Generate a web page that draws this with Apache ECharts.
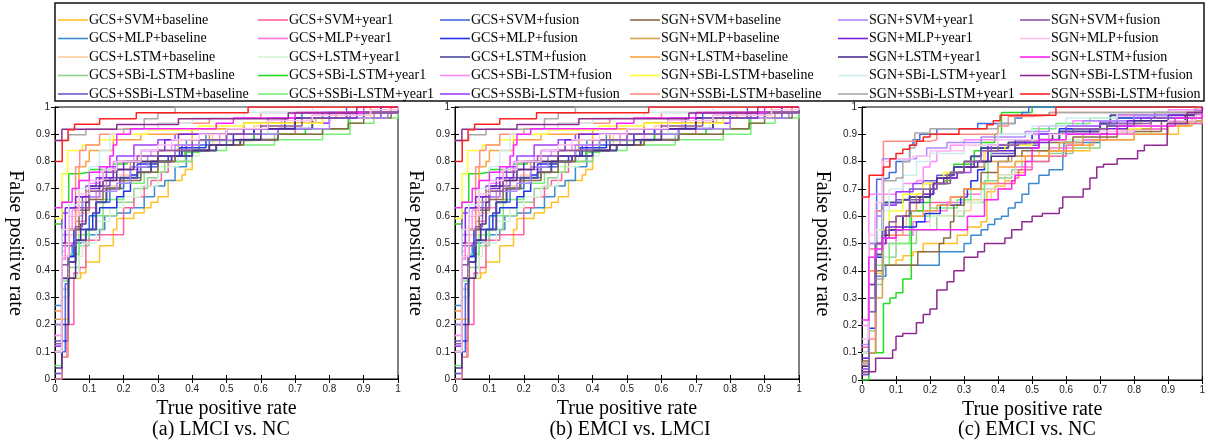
<!DOCTYPE html>
<html><head><meta charset="utf-8">
<script src="https://cdn.jsdelivr.net/npm/echarts@6/dist/echarts.min.js"></script>
<style>html,body{margin:0;padding:0;background:#fff}#c{width:1208px;height:441px}</style>
</head><body><div id="c"></div>
<script>
// ---------- series names & colours (legend order: 6 columns x 5 rows) ----------
const seriesNames = [
 'GCS+SVM+baseline','GCS+MLP+baseline','GCS+LSTM+baseline','GCS+SBi-LSTM+basline','GCS+SSBi-LSTM+baseline',
 'GCS+SVM+year1','GCS+MLP+year1','GCS+LSTM+year1','GCS+SBi-LSTM+year1','GCS+SSBi-LSTM+year1',
 'GCS+SVM+fusion','GCS+MLP+fusion','GCS+LSTM+fusion','GCS+SBi-LSTM+fusion','GCS+SSBi-LSTM+fusion',
 'SGN+SVM+baseline','SGN+MLP+baseline','SGN+LSTM+baseline','SGN+SBi-LSTM+baseline','SGN+SSBi-LSTM+baseline',
 'SGN+SVM+year1','SGN+MLP+year1','SGN+LSTM+year1','SGN+SBi-LSTM+year1','SGN+SSBi-LSTM+year1',
 'SGN+SVM+fusion','SGN+MLP+fusion','SGN+LSTM+fusion','SGN+SBi-LSTM+fusion','SGN+SSBi-LSTM+fusion'
];
const seriesColors = [
 '#FFC125','#3A8BD0','#FFCC99','#8FD18F','#6A5ACD',
 '#FF5FA0','#FF77DD','#D2F5D2','#22DD22','#77EE77',
 '#4169E1','#2233EE','#4A4A9A','#FF88FF','#A040FF',
 '#8B6B45','#D4A050','#FFA040','#FFFF33','#FF8C80',
 '#B088FF','#7A22DD','#4B2E8A','#CDEEEE','#A8A8A8',
 '#8E5BA8','#FFC0EE','#FF22FF','#902A90','#FF2020'
];
const panelTitles = ['(a) LMCI vs. NC','(b) EMCI vs. LMCI','(c) EMCI vs. NC'];
const xAxisName = 'True positive rate';
const yAxisName = 'False positive rate';

// ---------- ROC staircase corners [x, y] : panels (a) and (b) ----------
const ab01 = [[0,0],[0.02,0.22],[0.037,0.26],[0.037,0.37],[0.075,0.39],[0.09,0.43],[0.13,0.43],[0.13,0.49],[0.17,0.55],[0.18,0.59],[0.23,0.61],[0.26,0.63],[0.28,0.65],[0.3,0.67],[0.33,0.73],[0.37,0.75],[0.38,0.77],[0.4,0.92],[0.55,0.94],[0.76,0.96],[0.9,0.98],[1,1]];
const ab02 = [[0,0.27],[0.02,0.3],[0.04,0.45],[0.05,0.5],[0.1,0.53],[0.13,0.55],[0.145,0.6],[0.18,0.61],[0.22,0.63],[0.26,0.67],[0.29,0.71],[0.32,0.73],[0.35,0.78],[0.383,0.88],[0.44,0.9],[0.55,0.94],[0.62,0.96],[0.78,0.98],[0.95,1],[1,1]];
const ab03 = [[0,0.16],[0.02,0.42],[0.04,0.53],[0.07,0.61],[0.1,0.67],[0.14,0.71],[0.19,0.75],[0.24,0.78],[0.3,0.82],[0.38,0.86],[0.46,0.9],[0.58,0.93],[0.7,0.96],[0.82,0.98],[1,1]];
const ab04 = [[0,0.1],[0.02,0.33],[0.04,0.41],[0.07,0.49],[0.1,0.55],[0.14,0.6],[0.18,0.65],[0.23,0.7],[0.27,0.74],[0.3,0.8],[0.38,0.84],[0.45,0.86],[0.55,0.88],[0.64,0.9],[0.78,0.92],[0.86,0.96],[0.95,0.98],[1,1]];
const ab05 = [[0,0.14],[0.02,0.49],[0.04,0.63],[0.08,0.67],[0.13,0.71],[0.16,0.74],[0.22,0.78],[0.28,0.8],[0.35,0.84],[0.45,0.86],[0.5,0.88],[0.58,0.92],[0.7,0.96],[0.86,0.98],[1,1]];
const ab06 = [[0,0.02],[0.02,0.08],[0.035,0.2],[0.055,0.39],[0.072,0.41],[0.09,0.51],[0.13,0.53],[0.2,0.63],[0.23,0.67],[0.26,0.71],[0.28,0.73],[0.31,0.76],[0.33,0.8],[0.4,0.84],[0.47,0.86],[0.52,0.88],[0.6,0.9],[0.7,0.94],[0.8,0.96],[0.93,0.98],[1,1]];
const ab07 = [[0,0.12],[0.02,0.44],[0.03,0.5],[0.06,0.58],[0.09,0.63],[0.12,0.69],[0.15,0.73],[0.2,0.77],[0.25,0.8],[0.3,0.82],[0.38,0.86],[0.48,0.9],[0.6,0.94],[0.75,0.97],[0.9,0.98],[1,1]];
const ab08 = [[0,0.1],[0.02,0.3],[0.04,0.38],[0.07,0.45],[0.08,0.5],[0.12,0.58],[0.16,0.63],[0.2,0.67],[0.25,0.71],[0.3,0.78],[0.36,0.82],[0.42,0.86],[0.52,0.9],[0.62,0.92],[0.74,0.96],[0.88,0.98],[1,1]];
const ab09 = [[0,0.57],[0.02,0.65],[0.04,0.755],[0.07,0.76],[0.1,0.77],[0.17,0.79],[0.21,0.8],[0.3,0.82],[0.38,0.835],[0.42,0.877],[0.58,0.9],[0.73,0.92],[0.855,0.96],[0.97,0.98],[1,1]];
const ab10 = [[0,0.05],[0.02,0.36],[0.04,0.46],[0.07,0.53],[0.1,0.6],[0.14,0.66],[0.2,0.72],[0.26,0.76],[0.32,0.8],[0.4,0.84],[0.5,0.86],[0.64,0.88],[0.78,0.9],[0.86,0.94],[0.93,0.96],[1,1]];
const ab11 = [[0,0.02],[0.02,0.1],[0.03,0.35],[0.04,0.45],[0.06,0.55],[0.1,0.6],[0.12,0.65],[0.16,0.7],[0.2,0.74],[0.25,0.78],[0.3,0.82],[0.37,0.86],[0.45,0.88],[0.5,0.92],[0.62,0.94],[0.72,0.98],[0.85,1],[1,1]];
const ab12 = [[0,0],[0.02,0.14],[0.038,0.45],[0.055,0.55],[0.11,0.61],[0.13,0.63],[0.18,0.67],[0.2,0.69],[0.22,0.75],[0.24,0.79],[0.3,0.8],[0.33,0.82],[0.363,0.85],[0.44,0.88],[0.52,0.9],[0.58,0.92],[0.67,0.96],[0.8,0.98],[0.95,1],[1,1]];
const ab13 = [[0,0.1],[0.02,0.37],[0.04,0.43],[0.06,0.51],[0.09,0.55],[0.12,0.65],[0.15,0.7],[0.19,0.74],[0.24,0.76],[0.28,0.8],[0.34,0.82],[0.4,0.84],[0.47,0.86],[0.54,0.88],[0.65,0.92],[0.75,0.96],[0.9,0.98],[1,1]];
const ab14 = [[0,0.16],[0.02,0.47],[0.03,0.55],[0.05,0.62],[0.07,0.67],[0.1,0.72],[0.13,0.76],[0.17,0.8],[0.23,0.82],[0.28,0.84],[0.34,0.86],[0.42,0.88],[0.55,0.92],[0.66,0.96],[0.82,0.98],[1,1]];
const ab15 = [[0,0.12],[0.02,0.61],[0.04,0.63],[0.07,0.67],[0.09,0.71],[0.12,0.74],[0.15,0.78],[0.18,0.82],[0.23,0.86],[0.3,0.88],[0.35,0.9],[0.5,0.92],[0.62,0.94],[0.8,0.96],[0.95,0.98],[1,1]];
const ab16 = [[0,0.2],[0.02,0.45],[0.04,0.55],[0.07,0.62],[0.1,0.66],[0.14,0.7],[0.19,0.73],[0.25,0.76],[0.3,0.8],[0.35,0.84],[0.45,0.86],[0.55,0.88],[0.65,0.9],[0.78,0.92],[0.855,0.94],[0.9,0.96],[0.98,1],[1,1]];
const ab17 = [[0,0.22],[0.02,0.5],[0.04,0.6],[0.06,0.65],[0.09,0.69],[0.13,0.73],[0.17,0.77],[0.22,0.8],[0.3,0.84],[0.36,0.88],[0.45,0.9],[0.55,0.94],[0.7,0.96],[0.85,0.98],[1,1]];
const ab18 = [[0,0.25],[0.02,0.55],[0.04,0.6],[0.07,0.78],[0.09,0.8],[0.1,0.84],[0.17,0.88],[0.25,0.9],[0.4,0.92],[0.55,0.94],[0.78,0.96],[0.82,0.98],[0.92,1],[1,1]];
const ab19 = [[0,0.59],[0.02,0.755],[0.037,0.84],[0.08,0.86],[0.13,0.88],[0.17,0.9],[0.27,0.915],[0.42,0.93],[0.55,0.94],[0.78,0.96],[0.92,0.98],[1,1]];
const ab20 = [[0,0],[0.02,0.08],[0.038,0.2],[0.04,0.55],[0.06,0.78],[0.072,0.84],[0.09,0.86],[0.13,0.9],[0.2,0.92],[0.3,0.94],[0.45,0.96],[0.6,0.98],[0.98,1],[1,1]];
const ab21 = [[0,0.2],[0.02,0.53],[0.04,0.6],[0.08,0.65],[0.1,0.67],[0.13,0.69],[0.18,0.72],[0.22,0.78],[0.27,0.82],[0.35,0.86],[0.42,0.88],[0.5,0.9],[0.65,0.92],[0.8,0.96],[0.97,0.98],[1,1]];
const ab22 = [[0,0.1],[0.02,0.5],[0.03,0.63],[0.06,0.67],[0.1,0.7],[0.13,0.74],[0.17,0.77],[0.2,0.8],[0.25,0.84],[0.32,0.88],[0.36,0.9],[0.55,0.92],[0.7,0.96],[0.88,0.98],[1,1]];
const ab23 = [[0,0.04],[0.02,0.2],[0.04,0.37],[0.06,0.51],[0.075,0.57],[0.09,0.65],[0.1,0.71],[0.14,0.73],[0.18,0.77],[0.23,0.8],[0.3,0.82],[0.37,0.84],[0.45,0.86],[0.52,0.88],[0.6,0.92],[0.7,0.96],[0.85,0.98],[1,1]];
const ab24 = [[0,0.1],[0.02,0.55],[0.04,0.64],[0.07,0.7],[0.1,0.78],[0.13,0.84],[0.16,0.9],[0.22,0.92],[0.3,0.94],[0.4,0.96],[0.55,0.98],[0.75,1],[1,1]];
const ab25 = [[0,0.877],[0.04,0.898],[0.09,0.918],[0.26,0.957],[0.3,0.978],[0.35,1],[1,1]];
const ab26 = [[0,0.13],[0.02,0.42],[0.04,0.49],[0.06,0.56],[0.08,0.63],[0.1,0.69],[0.14,0.76],[0.18,0.8],[0.24,0.82],[0.3,0.84],[0.4,0.88],[0.5,0.9],[0.6,0.93],[0.72,0.96],[0.85,0.98],[1,1]];
const ab27 = [[0,0.1],[0.02,0.45],[0.04,0.6],[0.07,0.68],[0.1,0.73],[0.14,0.77],[0.18,0.8],[0.25,0.84],[0.3,0.86],[0.34,0.88],[0.42,0.9],[0.5,0.92],[0.62,0.95],[0.75,0.97],[0.92,0.99],[1,1]];
const ab28 = [[0,0.63],[0.02,0.65],[0.05,0.7],[0.07,0.73],[0.1,0.76],[0.13,0.78],[0.16,0.82],[0.17,0.86],[0.18,0.9],[0.22,0.92],[0.47,0.94],[0.52,0.96],[0.7,0.98],[0.9,1],[1,1]];
const ab29 = [[0,0.877],[0.02,0.918],[0.18,0.936],[0.36,0.957],[0.68,0.978],[0.88,1],[1,1]];
const ab30 = [[0,0.8],[0.021,0.877],[0.038,0.916],[0.057,0.937],[0.13,0.957],[0.237,0.979],[0.563,1],[1,1]];

// ---------- panel (c) ----------
const c01 = [[0,0.06],[0.02,0.35],[0.04,0.39],[0.06,0.42],[0.1,0.44],[0.12,0.455],[0.15,0.47],[0.18,0.5],[0.28,0.53],[0.31,0.56],[0.35,0.58],[0.367,0.69],[0.39,0.71],[0.42,0.73],[0.45,0.76],[0.48,0.8],[0.5,0.82],[0.52,0.84],[0.67,0.87],[0.7,0.9],[0.93,0.93],[0.96,0.95],[0.98,0.97],[1,1]];
const c02 = [[0,0.05],[0.02,0.3],[0.04,0.38],[0.07,0.42],[0.227,0.47],[0.3,0.5],[0.32,0.53],[0.35,0.55],[0.37,0.57],[0.39,0.59],[0.41,0.6],[0.43,0.63],[0.45,0.65],[0.47,0.68],[0.49,0.72],[0.52,0.75],[0.55,0.77],[0.59,0.8],[0.594,0.87],[0.7,0.9],[0.8,0.92],[0.9,0.94],[0.98,0.97],[1,1]];
const c03 = [[0,0.05],[0.02,0.3],[0.04,0.45],[0.06,0.53],[0.1,0.56],[0.13,0.6],[0.28,0.62],[0.32,0.66],[0.38,0.7],[0.42,0.75],[0.45,0.8],[0.47,0.82],[0.52,0.84],[0.6,0.86],[0.65,0.88],[0.75,0.9],[0.85,0.93],[0.95,0.96],[1,1]];
const c04 = [[0,0.03],[0.02,0.18],[0.04,0.35],[0.06,0.45],[0.1,0.5],[0.16,0.55],[0.22,0.6],[0.3,0.65],[0.36,0.73],[0.4,0.74],[0.44,0.77],[0.47,0.8],[0.55,0.83],[0.62,0.85],[0.7,0.88],[0.8,0.9],[0.9,0.94],[1,1]];
const c05 = [[0,0.08],[0.02,0.5],[0.04,0.62],[0.06,0.64],[0.1,0.66],[0.14,0.7],[0.18,0.73],[0.22,0.75],[0.27,0.78],[0.32,0.8],[0.38,0.83],[0.45,0.86],[0.52,0.9],[0.6,0.92],[0.7,0.94],[0.82,0.96],[0.95,0.98],[1,1]];
const c06 = [[0,0.12],[0.02,0.48],[0.04,0.5],[0.07,0.55],[0.1,0.6],[0.14,0.62],[0.2,0.65],[0.26,0.67],[0.3,0.7],[0.4,0.72],[0.45,0.74],[0.46,0.77],[0.5,0.8],[0.55,0.82],[0.6,0.86],[0.65,0.88],[0.72,0.9],[0.78,0.92],[0.9,0.94],[1,1]];
const c07 = [[0,0.1],[0.02,0.4],[0.04,0.48],[0.06,0.5],[0.1,0.53],[0.15,0.58],[0.2,0.62],[0.25,0.65],[0.3,0.68],[0.35,0.72],[0.4,0.75],[0.45,0.78],[0.5,0.82],[0.55,0.85],[0.62,0.88],[0.7,0.9],[0.8,0.92],[0.9,0.95],[1,1]];
const c08 = [[0,0.1],[0.02,0.35],[0.04,0.45],[0.08,0.5],[0.14,0.55],[0.2,0.6],[0.28,0.62],[0.3,0.65],[0.35,0.7],[0.4,0.75],[0.45,0.8],[0.5,0.85],[0.55,0.88],[0.65,0.9],[0.75,0.93],[0.88,0.95],[1,1]];
const c09 = [[0,0],[0.02,0.1],[0.063,0.28],[0.082,0.3],[0.1,0.32],[0.12,0.37],[0.145,0.42],[0.145,0.62],[0.18,0.65],[0.2,0.72],[0.24,0.73],[0.26,0.76],[0.27,0.79],[0.33,0.84],[0.35,0.87],[0.39,0.9],[0.41,0.98],[0.5,1],[1,1]];
const c10 = [[0,0.04],[0.02,0.25],[0.04,0.42],[0.08,0.5],[0.14,0.6],[0.2,0.63],[0.28,0.66],[0.32,0.7],[0.36,0.73],[0.37,0.8],[0.38,0.84],[0.45,0.87],[0.5,0.92],[0.57,0.94],[0.67,0.96],[0.8,0.97],[1,1]];
const c11 = [[0,0.1],[0.02,0.45],[0.043,0.735],[0.06,0.74],[0.08,0.76],[0.1,0.8],[0.14,0.86],[0.15,0.88],[0.17,0.9],[0.22,0.92],[0.34,0.94],[0.45,0.96],[0.47,0.98],[0.49,1],[1,1]];
const c12 = [[0,0.02],[0.02,0.19],[0.04,0.45],[0.06,0.47],[0.065,0.55],[0.12,0.56],[0.16,0.58],[0.185,0.61],[0.23,0.64],[0.29,0.67],[0.31,0.7],[0.32,0.73],[0.34,0.77],[0.36,0.8],[0.37,0.86],[0.45,0.88],[0.5,0.9],[0.58,0.92],[0.7,0.94],[0.75,0.96],[0.86,0.98],[1,1]];
const c13 = [[0,0.1],[0.02,0.3],[0.04,0.46],[0.06,0.65],[0.12,0.66],[0.14,0.67],[0.2,0.68],[0.21,0.72],[0.25,0.75],[0.27,0.78],[0.3,0.8],[0.32,0.82],[0.35,0.85],[0.43,0.87],[0.52,0.88],[0.58,0.91],[0.7,0.94],[0.73,0.97],[0.98,0.99],[1,1]];
const c14 = [[0,0.2],[0.02,0.68],[0.1,0.69],[0.12,0.72],[0.16,0.73],[0.18,0.78],[0.2,0.8],[0.22,0.84],[0.26,0.86],[0.3,0.88],[0.4,0.9],[0.52,0.93],[0.62,0.95],[0.75,0.97],[0.9,0.99],[1,1]];
const c15 = [[0,0.04],[0.02,0.3],[0.04,0.6],[0.06,0.64],[0.1,0.69],[0.15,0.72],[0.22,0.74],[0.28,0.76],[0.32,0.8],[0.36,0.84],[0.38,0.86],[0.48,0.88],[0.52,0.9],[0.6,0.93],[0.7,0.95],[0.8,0.96],[0.95,0.98],[1,1]];
const c16 = [[0,0.07],[0.02,0.1],[0.04,0.4],[0.063,0.42],[0.164,0.47],[0.227,0.5],[0.24,0.52],[0.26,0.58],[0.27,0.64],[0.3,0.7],[0.35,0.76],[0.4,0.8],[0.43,0.82],[0.47,0.84],[0.55,0.87],[0.62,0.89],[0.75,0.91],[0.88,0.95],[1,1]];
const c17 = [[0,0.06],[0.02,0.1],[0.04,0.3],[0.06,0.52],[0.1,0.6],[0.13,0.62],[0.16,0.68],[0.2,0.72],[0.25,0.76],[0.3,0.78],[0.36,0.8],[0.44,0.82],[0.55,0.84],[0.58,0.87],[0.65,0.9],[0.75,0.92],[0.85,0.95],[1,1]];
const c18 = [[0,0.1],[0.02,0.4],[0.04,0.5],[0.06,0.53],[0.12,0.6],[0.18,0.62],[0.22,0.64],[0.26,0.67],[0.3,0.7],[0.35,0.72],[0.4,0.78],[0.45,0.8],[0.48,0.82],[0.55,0.84],[0.62,0.86],[0.68,0.88],[0.8,0.9],[0.9,0.93],[0.97,0.96],[1,1]];
const c19 = [[0,0.1],[0.02,0.45],[0.04,0.55],[0.08,0.62],[0.12,0.68],[0.18,0.72],[0.24,0.76],[0.3,0.8],[0.36,0.84],[0.42,0.86],[0.5,0.88],[0.6,0.9],[0.7,0.92],[0.82,0.95],[0.95,0.98],[1,1]];
const c20 = [[0,0.06],[0.02,0.15],[0.04,0.62],[0.063,0.875],[0.2,0.88],[0.22,0.9],[0.4,0.93],[0.43,0.965],[0.5,0.97],[0.55,0.98],[0.98,1],[1,1]];
const c21 = [[0,0.13],[0.02,0.5],[0.04,0.6],[0.06,0.81],[0.16,0.82],[0.19,0.85],[0.25,0.87],[0.35,0.89],[0.48,0.91],[0.55,0.93],[0.65,0.95],[0.8,0.97],[1,1]];
const c22 = [[0,0.08],[0.02,0.35],[0.04,0.5],[0.07,0.56],[0.12,0.6],[0.14,0.65],[0.18,0.68],[0.21,0.72],[0.24,0.74],[0.28,0.76],[0.3,0.78],[0.33,0.8],[0.37,0.84],[0.45,0.87],[0.55,0.9],[0.67,0.92],[0.78,0.95],[0.9,0.97],[1,1]];
const c23 = [[0,0.05],[0.02,0.3],[0.04,0.5],[0.06,0.53],[0.08,0.55],[0.12,0.6],[0.14,0.65],[0.17,0.67],[0.2,0.7],[0.22,0.74],[0.26,0.76],[0.3,0.78],[0.34,0.8],[0.38,0.82],[0.45,0.85],[0.52,0.88],[0.56,0.9],[0.72,0.93],[0.8,0.95],[0.95,0.97],[1,1]];
const c24 = [[0,0.1],[0.02,0.45],[0.04,0.55],[0.06,0.62],[0.08,0.7],[0.12,0.75],[0.16,0.8],[0.2,0.83],[0.3,0.86],[0.4,0.9],[0.5,0.93],[0.6,0.96],[0.75,0.98],[1,1]];
const c25 = [[0,0.06],[0.02,0.3],[0.04,0.37],[0.063,0.73],[0.1,0.74],[0.12,0.8],[0.14,0.85],[0.155,0.905],[0.2,0.92],[0.4,0.94],[0.45,0.97],[0.55,0.98],[0.98,1],[1,1]];
const c26 = [[0,0.02],[0.02,0.25],[0.04,0.5],[0.06,0.52],[0.08,0.58],[0.1,0.6],[0.14,0.66],[0.18,0.7],[0.22,0.72],[0.26,0.76],[0.3,0.8],[0.35,0.84],[0.4,0.86],[0.46,0.88],[0.55,0.9],[0.62,0.92],[0.72,0.94],[0.85,0.96],[0.98,0.98],[1,1]];
const c27 = [[0,0.15],[0.02,0.53],[0.04,0.65],[0.06,0.8],[0.08,0.81],[0.15,0.82],[0.2,0.84],[0.3,0.86],[0.4,0.88],[0.55,0.9],[0.7,0.91],[0.8,0.93],[0.9,0.95],[0.98,0.97],[1,1]];
const c28 = [[0,0.22],[0.02,0.45],[0.04,0.48],[0.06,0.52],[0.1,0.55],[0.31,0.6],[0.36,0.66],[0.4,0.7],[0.44,0.73],[0.45,0.75],[0.48,0.8],[0.5,0.85],[0.52,0.88],[0.6,0.9],[0.75,0.93],[0.92,0.96],[1,1]];
const c29 = [[0,0.03],[0.04,0.08],[0.09,0.11],[0.1,0.16],[0.12,0.17],[0.16,0.21],[0.18,0.24],[0.2,0.26],[0.22,0.33],[0.25,0.36],[0.27,0.4],[0.3,0.45],[0.34,0.47],[0.36,0.5],[0.42,0.52],[0.44,0.55],[0.47,0.58],[0.5,0.6],[0.53,0.61],[0.58,0.63],[0.59,0.67],[0.65,0.7],[0.67,0.74],[0.69,0.78],[0.71,0.79],[0.75,0.81],[0.81,0.84],[0.83,0.86],[0.86,0.86],[0.897,0.94],[0.956,0.98],[1,1]];
const c30 = [[0,0.67],[0.021,0.75],[0.063,0.78],[0.082,0.81],[0.1,0.83],[0.12,0.845],[0.14,0.86],[0.16,0.875],[0.18,0.89],[0.2,0.9],[0.285,0.92],[0.367,0.935],[0.386,0.95],[0.406,0.97],[0.57,1],[1,1]];

const panelA = [ab01,ab02,ab03,ab04,ab05,ab06,ab07,ab08,ab09,ab10,ab11,ab12,ab13,ab14,ab15,ab16,ab17,ab18,ab19,ab20,ab21,ab22,ab23,ab24,ab25,ab26,ab27,ab28,ab29,ab30];
const panelB = panelA; // panel (b) curves coincide with (a)
const panelC = [c01,c02,c03,c04,c05,c06,c07,c08,c09,c10,c11,c12,c13,c14,c15,c16,c17,c18,c19,c20,c21,c22,c23,c24,c25,c26,c27,c28,c29,c30];
const panels = [panelA, panelB, panelC];

// ---------- layout ----------
const serif = '"Liberation Serif","Times New Roman",serif';
const sans = '"Liberation Sans",Arial,sans-serif';
const gridBoxes = [
  {left:55, top:107, width:343, height:272},
  {left:455, top:107, width:344, height:272},
  {left:862, top:107, width:344, height:273}
];
const titleCenters = [221, 630, 1027];
const legendCols = [58, 258, 440, 630, 838, 1020];

const grid = [], xAxis = [], yAxis = [], series = [], title = [];
gridBoxes.forEach((g, i) => {
  grid.push({left:g.left, top:g.top, width:g.width, height:g.height, show:true, borderColor:'#000', borderWidth:1, containLabel:false});
  const common = {type:'value', min:0, max:1, interval:0.1, gridIndex:i, splitLine:{show:false},
    axisLine:{show:true, lineStyle:{color:'#000', width:1}},
    axisTick:{show:true, inside:true, length:4, lineStyle:{color:'#000'}}};
  xAxis.push(Object.assign({}, common, {position:'bottom',
    axisLabel:{show:true, margin:5, fontSize:10, color:'#222', fontFamily:sans},
    name:xAxisName, nameLocation:'middle', nameGap:19,
    nameTextStyle:{fontFamily:serif, fontSize:20, color:'#000'}}));
  xAxis.push(Object.assign({}, common, {position:'top', axisLabel:{show:false}}));
  yAxis.push(Object.assign({}, common, {position:'left',
    axisLabel:{show:true, margin:5, fontSize:10, color:'#222', fontFamily:sans},
    name:yAxisName, nameLocation:'middle', nameGap:30, nameRotate:-90,
    nameTextStyle:{fontFamily:serif, fontSize:20, color:'#000'}}));
  yAxis.push(Object.assign({}, common, {position:'right', axisLabel:{show:false}}));
  title.push({text:panelTitles[i], left:titleCenters[i], top:420, textAlign:'center', padding:0,
    textStyle:{fontFamily:serif, fontSize:20, fontWeight:'normal', color:'#000'}});
  panels[i].forEach((d, k) => {
    series.push({name:seriesNames[k], type:'line', step:'end', symbol:'none', showSymbol:false,
      xAxisIndex:2*i, yAxisIndex:2*i, data:d, silent:true,
      lineStyle:{color:seriesColors[k], width: k===12 ? 2 : 1.5},
      itemStyle:{color:seriesColors[k]}});
  });
});

const legend = legendCols.map((x, ci) => ({
  orient:'vertical', left:x, top:12, padding:0, itemGap:2.5, itemWidth:30, itemHeight:1.6,
  icon:'rect', selectedMode:false,
  data:seriesNames.slice(ci*5, ci*5+5),
  textStyle:{fontFamily:serif, fontSize:14, lineHeight:16, color:'#000', padding:[0,0,0,-4]}
}));

const chart = echarts.init(document.getElementById('c'), null, {renderer:'canvas'});
chart.setOption({
  animation:false,
  backgroundColor:'#fff',
  title, grid, xAxis, yAxis, series, legend,
  graphic:[{type:'rect', shape:{x:55, y:3, width:1149, height:98},
    style:{fill:'none', stroke:'#111', lineWidth:1.5}, silent:true}]
});
</script></body></html>
